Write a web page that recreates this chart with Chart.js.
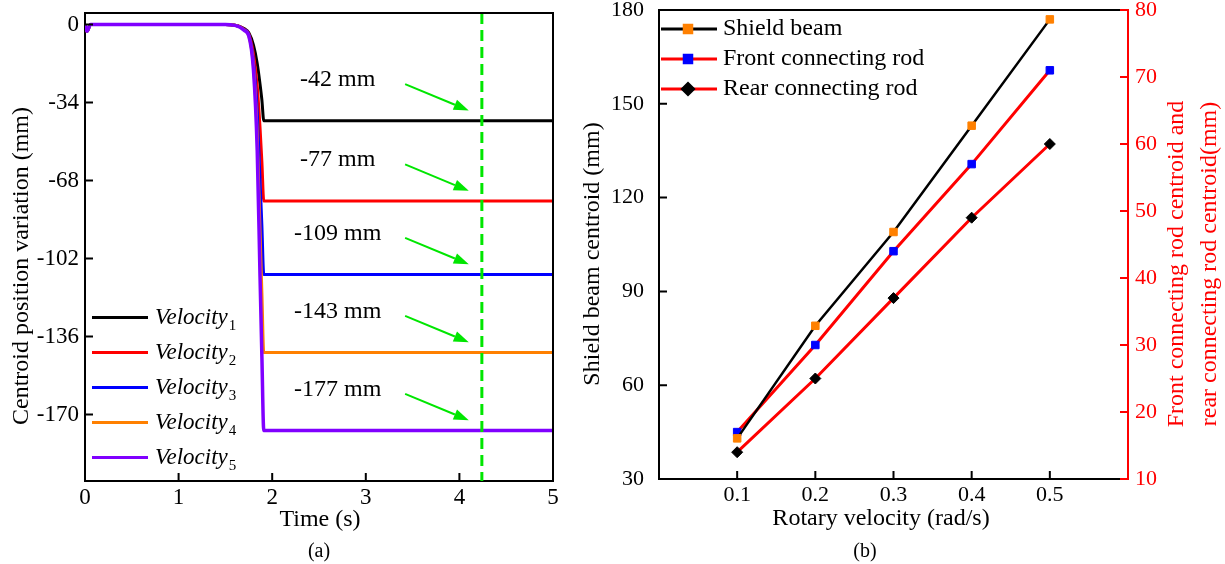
<!DOCTYPE html>
<html>
<head>
<meta charset="utf-8">
<title>Centroid variation</title>
<script src="https://cdn.jsdelivr.net/npm/chart.js@4.4.1/dist/chart.umd.min.js"></script>
<style>
  html, body { margin: 0; padding: 0; background: #fff; }
  #wrap { position: relative; width: 1225px; height: 564px; }
  #chartA { position: absolute; left: 0; top: 0; }
  #chartB { position: absolute; left: 570px; top: 0; }
</style>
</head>
<body>
<div id="wrap">
  <canvas id="chartA" width="570" height="564"></canvas>
  <canvas id="chartB" width="655" height="564"></canvas>
</div>
<script>
// (a) centroid position over time for five rotary velocities
var timeSteps = [0, 0.02, 0.06, 0.5, 1.0, 1.5, 1.6, 1.65, 1.7, 1.75, 1.8, 1.84, 1.87, 1.89, 1.91, 2.5, 3.0, 5.0];
var velocity1 = [0, -3, 0, 0, 0, 0, -0.3, -0.8, -1.8, -3.6, -9, -17, -26, -33, -42, -42, -42, -42];
var velocity2 = [0, -3, 0, 0, 0, 0, -0.3, -0.8, -2, -4, -13, -27, -45, -60, -77, -77, -77, -77];
var velocity3 = [0, -3, 0, 0, 0, 0, -0.3, -0.9, -2.2, -4.5, -16, -38, -68, -88, -109, -109, -109, -109];
var velocity4 = [0, -3, 0, 0, 0, 0, -0.3, -1, -2.4, -5, -18, -48, -90, -117, -143, -143, -143, -143];
var velocity5 = [0, -3, 0, 0, 0, 0, -0.4, -1.1, -2.6, -5, -20, -55, -110, -145, -177, -177, -177, -177];
var finalDrops = [-42, -77, -109, -143, -177];
var timeTicks = [0, 1, 2, 3, 4, 5];
var centroidTicks = [0, -34, -68, -102, -136, -170];
var markerTime = 4.24;

// (b) centroid change against rotary velocity
var rotaryVelocity = [0.1, 0.2, 0.3, 0.4, 0.5];
var shieldBeam = [43, 79, 109, 143, 177];
var frontRod = [17, 30, 44, 57, 71];
var rearRod = [14, 25, 37, 49, 60];
var beamTicks = [30, 60, 90, 120, 150, 180];
var rodTicks = [10, 20, 30, 40, 50, 60, 70, 80];

var SERIF = '"Liberation Serif", "Times New Roman", serif';
var GREEN = '#00e600';
Chart.defaults.font.family = SERIF;
Chart.defaults.color = '#000';

function pairs(xs, ys) {
  return xs.map(function (x, i) { return { x: x, y: ys[i] }; });
}

function text(ctx, str, x, y, font, color, rot) {
  ctx.save();
  ctx.translate(x, y);
  if (rot) ctx.rotate(rot);
  ctx.font = font;
  ctx.fillStyle = color;
  ctx.textAlign = 'center';
  ctx.textBaseline = 'middle';
  ctx.fillText(str, 0, 0);
  ctx.restore();
}

// tick marks pointing into the plot
function inwardTicks(ctx, scale, side, len, color) {
  ctx.save();
  ctx.strokeStyle = color;
  ctx.lineWidth = 2;
  ctx.beginPath();
  scale.ticks.forEach(function (t) {
    var p = scale.getPixelForValue(t.value);
    if (side === 'bottom') { ctx.moveTo(p, scale.top); ctx.lineTo(p, scale.top - len); }
    if (side === 'left') { ctx.moveTo(scale.right, p); ctx.lineTo(scale.right + len, p); }
    if (side === 'right') { ctx.moveTo(scale.left, p); ctx.lineTo(scale.left - len, p); }
  });
  ctx.stroke();
  ctx.restore();
}

function arrow(ctx, x0, y0, x1, y1) {
  var a = Math.atan2(y1 - y0, x1 - x0), hl = 15, hw = 5.5;
  var bx = x1 - hl * Math.cos(a), by = y1 - hl * Math.sin(a);
  ctx.beginPath();
  ctx.moveTo(x0, y0);
  ctx.lineTo(bx, by);
  ctx.stroke();
  ctx.beginPath();
  ctx.moveTo(x1, y1);
  ctx.lineTo(bx + hw * Math.sin(a), by - hw * Math.cos(a));
  ctx.lineTo(bx - hw * Math.sin(a), by + hw * Math.cos(a));
  ctx.closePath();
  ctx.fill();
}

// fixed-size axis; label overhang is ignored so the plot box stays put
function axisOpts(min, max, ticks, size, pad, color, extent) {
  return {
    type: 'linear', min: min, max: max,
    afterBuildTicks: function (s) { s.ticks = ticks.map(function (v) { return { value: v }; }); },
    afterFit: function (s) {
      if (s.isHorizontal()) s.height = extent; else s.width = extent;
      s.paddingTop = 0; s.paddingBottom = 0; s.paddingLeft = 0; s.paddingRight = 0;
    },
    ticks: { autoSkip: false, maxRotation: 0, padding: pad, color: color, font: { size: size } },
    grid: { display: false, drawTicks: false },
    border: { display: true, color: color, width: 2 }
  };
}

// ---------- chart (a) ----------
var colorsA = ['#000000', '#ff0000', '#0000ff', '#ff8000', '#8000ff'];
var seriesA = [velocity1, velocity2, velocity3, velocity4, velocity5];

var xA = axisOpts(0, 5, timeTicks, 23, 3, '#000', 83);
var yA = axisOpts(-199, 5, centroidTicks, 23, 6, '#000', 85);

var decorA = {
  id: 'decorA',
  afterDatasetsDraw: function (chart) {
    var ctx = chart.ctx, xs = chart.scales.x, ys = chart.scales.y, ca = chart.chartArea;
    // reference time line
    var xm = xs.getPixelForValue(markerTime);
    ctx.save();
    ctx.strokeStyle = GREEN;
    ctx.lineWidth = 3;
    ctx.setLineDash([11, 6]);
    ctx.beginPath();
    ctx.moveTo(xm, ca.top);
    ctx.lineTo(xm, ca.bottom);
    ctx.stroke();
    ctx.restore();

    // value labels with arrows
    ctx.save();
    ctx.lineWidth = 2;
    finalDrops.forEach(function (v) {
      text(ctx, v + ' mm', xs.getPixelForValue(2.7), ys.getPixelForValue(v + 18), '24px ' + SERIF, '#000');
      ctx.strokeStyle = GREEN;
      ctx.fillStyle = GREEN;
      arrow(ctx, xs.getPixelForValue(3.42), ys.getPixelForValue(v + 16),
                 xs.getPixelForValue(4.1), ys.getPixelForValue(v + 4.5));
    });
    ctx.restore();
  },
  afterDraw: function (chart) {
    var ctx = chart.ctx, ca = chart.chartArea;
    // frame top and right
    ctx.save();
    ctx.strokeStyle = '#000';
    ctx.lineWidth = 2;
    ctx.beginPath();
    ctx.moveTo(ca.left, ca.top);
    ctx.lineTo(ca.right, ca.top);
    ctx.lineTo(ca.right, ca.bottom);
    ctx.stroke();
    ctx.restore();
    inwardTicks(ctx, chart.scales.x, 'bottom', 8, '#000');
    inwardTicks(ctx, chart.scales.y, 'left', 8, '#000');

    // legend, lower left inside the plot
    chart.data.datasets.forEach(function (ds, i) {
      var y = 317.5 + i * 35;
      ctx.save();
      ctx.strokeStyle = ds.borderColor;
      ctx.lineWidth = 3;
      ctx.beginPath();
      ctx.moveTo(ca.left + 7, y);
      ctx.lineTo(ca.left + 63, y);
      ctx.stroke();
      var m = ds.label.match(/^(\D+)(\d+)$/);
      ctx.fillStyle = '#000';
      ctx.textAlign = 'left';
      ctx.textBaseline = 'middle';
      ctx.font = 'italic 23px ' + SERIF;
      ctx.fillText(m[1], ca.left + 70, y);
      var w = ctx.measureText(m[1]).width;
      ctx.font = '15px ' + SERIF;
      ctx.fillText(m[2], ca.left + 71 + w, y + 9);
      ctx.restore();
    });

    text(ctx, 'Centroid position variation (mm)', ca.left - 63, 266, '24px ' + SERIF, '#000', -Math.PI / 2);
    text(ctx, 'Time (s)', 320, ca.bottom + 39, '24px ' + SERIF, '#000');
    text(ctx, '(a)', 319, ca.bottom + 71, '20px ' + SERIF, '#000');
  }
};

var orderA = [5, 4, 3, 2, 1];
new Chart(document.getElementById('chartA'), {
  type: 'line',
  data: {
    datasets: seriesA.map(function (vals, i) {
      return {
        label: 'Velocity' + (i + 1),
        data: pairs(timeSteps, vals),
        borderColor: colorsA[i],
        borderWidth: i === 4 ? 3.5 : 3,
        pointRadius: 0,
        cubicInterpolationMode: 'monotone',
        order: orderA[i]
      };
    })
  },
  options: {
    responsive: false,
    animation: false,
    layout: { padding: { top: 13, right: 17, left: 0, bottom: 0 } },
    plugins: { legend: { display: false }, tooltip: { enabled: false } },
    scales: { x: xA, y: yA }
  },
  plugins: [decorA]
});

// ---------- chart (b) ----------
var xB = axisOpts(0, 0.6, rotaryVelocity, 22, 3, '#000', 85);
xB.ticks.callback = function (v) { return v.toFixed(1); };
var yB = axisOpts(30, 180, beamTicks, 22, 15, '#000', 89);
yB.position = 'left';
var y1B = axisOpts(10, 80, rodTicks, 22, 7, '#ff0000', 97);
y1B.position = 'right';

var decorB = {
  id: 'decorB',
  afterDraw: function (chart) {
    var ctx = chart.ctx, ca = chart.chartArea;
    ctx.save();
    ctx.strokeStyle = '#000';
    ctx.lineWidth = 2;
    ctx.beginPath();
    ctx.moveTo(ca.left, ca.top);
    ctx.lineTo(ca.right, ca.top);
    ctx.stroke();
    ctx.restore();
    inwardTicks(ctx, chart.scales.x, 'bottom', 8, '#000');
    inwardTicks(ctx, chart.scales.y, 'left', 8, '#000');
    inwardTicks(ctx, chart.scales.y1, 'right', 8, '#ff0000');

    // legend, top left inside the plot
    chart.data.datasets.forEach(function (ds, i) {
      var y = 29 + i * 30;
      ctx.save();
      ctx.strokeStyle = ds.borderColor;
      ctx.lineWidth = 3;
      ctx.beginPath();
      ctx.moveTo(ca.left + 2, y);
      ctx.lineTo(ca.left + 58, y);
      ctx.stroke();
      ctx.fillStyle = ds.pointBackgroundColor;
      ctx.strokeStyle = ds.pointBorderColor;
      Chart.helpers.drawPoint(ctx, { pointStyle: ds.pointStyle, radius: ds.pointRadius, rotation: 0, borderWidth: 1 }, ca.left + 29, y);
      ctx.fillStyle = '#000';
      ctx.font = '24px ' + SERIF;
      ctx.textAlign = 'left';
      ctx.textBaseline = 'middle';
      ctx.fillText(ds.label, ca.left + 64, y);
      ctx.restore();
    });

    text(ctx, 'Shield beam centroid (mm)', ca.left - 66, 254, '24px ' + SERIF, '#000', -Math.PI / 2);
    text(ctx, 'Front connecting rod centroid and', ca.right + 49, 264, '24px ' + SERIF, '#ff0000', -Math.PI / 2);
    text(ctx, 'rear connecting rod centroid(mm)', ca.right + 82, 264, '24px ' + SERIF, '#ff0000', -Math.PI / 2);
    text(ctx, 'Rotary velocity (rad/s)', ca.left + 222, ca.bottom + 40, '24px ' + SERIF, '#000');
    text(ctx, '(b)', ca.left + 206, ca.bottom + 73, '20px ' + SERIF, '#000');
  }
};

new Chart(document.getElementById('chartB'), {
  type: 'line',
  data: {
    datasets: [
      {
        label: 'Shield beam', yAxisID: 'y',
        data: pairs(rotaryVelocity, shieldBeam),
        borderColor: '#000000', borderWidth: 2.5,
        pointStyle: 'rect', pointRadius: 5.3,
        pointBackgroundColor: '#ff8000', pointBorderColor: '#ff8000', pointBorderWidth: 1
      },
      {
        label: 'Front connecting rod', yAxisID: 'y1',
        data: pairs(rotaryVelocity, frontRod),
        borderColor: '#ff0000', borderWidth: 3,
        pointStyle: 'rect', pointRadius: 5.3,
        pointBackgroundColor: '#0000ff', pointBorderColor: '#0000ff', pointBorderWidth: 1
      },
      {
        label: 'Rear connecting rod', yAxisID: 'y1',
        data: pairs(rotaryVelocity, rearRod),
        borderColor: '#ff0000', borderWidth: 3,
        pointStyle: 'rectRot', pointRadius: 5.5,
        pointBackgroundColor: '#000000', pointBorderColor: '#000000', pointBorderWidth: 1
      }
    ]
  },
  options: {
    responsive: false,
    animation: false,
    layout: { padding: { top: 10, right: 0, left: 0, bottom: 0 } },
    plugins: { legend: { display: false }, tooltip: { enabled: false } },
    scales: { x: xB, y: yB, y1: y1B }
  },
  plugins: [decorB]
});
</script>
</body>
</html>
